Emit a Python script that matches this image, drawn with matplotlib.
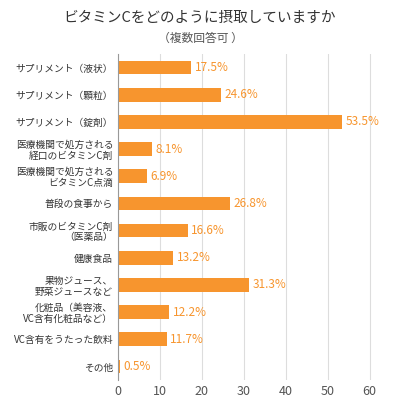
import matplotlib
matplotlib.use("Agg")
import matplotlib.pyplot as plt

plt.rcParams['font.family'] = ['Noto Sans CJK JP', 'DejaVu Sans']

categories = ["サプリメント（液状）", "サプリメント（顆粒）", "サプリメント（錠剤）",
              "医療機関で処方される\n経口のビタミンC剤", "医療機関で処方される\nビタミンC点滴",
              "普段の食事から", "市販のビタミンC剤\n（医薬品）", "健康食品",
              "果物ジュース、\n野菜ジュースなど", "化粧品（美容液、\nVC含有化粧品など）",
              "VC含有をうたった飲料", "その他"]
values = [17.5, 24.6, 53.5, 8.1, 6.9, 26.8, 16.6, 13.2, 31.3, 12.2, 11.7, 0.5]
ticks = [0, 10, 20, 30, 40, 50, 60]
color = "#F7952E"

fig = plt.figure(figsize=(4, 4), dpi=100)
ax = fig.add_axes([0.295, 0.05, 0.65, 0.815])
y = list(range(len(categories)))
ax.barh(y, values, height=0.5, color=color, zorder=2)
for yi, v in zip(y, values):
    ax.text(v + 0.8, yi, f"{v}%", va="center", ha="left", color=color, fontsize=8.5)
ax.set_yticks(y)
ax.set_yticklabels(categories, fontsize=7, color="#333333", linespacing=1.1)
ax.set_ylim(len(categories) - 0.5, -0.5)
ax.set_xlim(0, 62)
ax.set_xticks(ticks)
ax.tick_params(axis='x', labelsize=9, colors="#555555", length=0)
ax.tick_params(axis='y', length=0)
ax.xaxis.grid(True, color="#dddddd", linewidth=0.8, zorder=0)
for s in ["top", "right", "bottom"]:
    ax.spines[s].set_visible(False)
ax.spines["left"].set_color("#999999")
fig.text(0.5, 0.955, "ビタミンCをどのように摂取していますか", ha="center", va="center", fontsize=10.5, color="#333333")
fig.text(0.5, 0.905, "（複数回答可 ）", ha="center", va="center", fontsize=8.5, color="#555555")
fig.savefig("out.png", dpi=100)
